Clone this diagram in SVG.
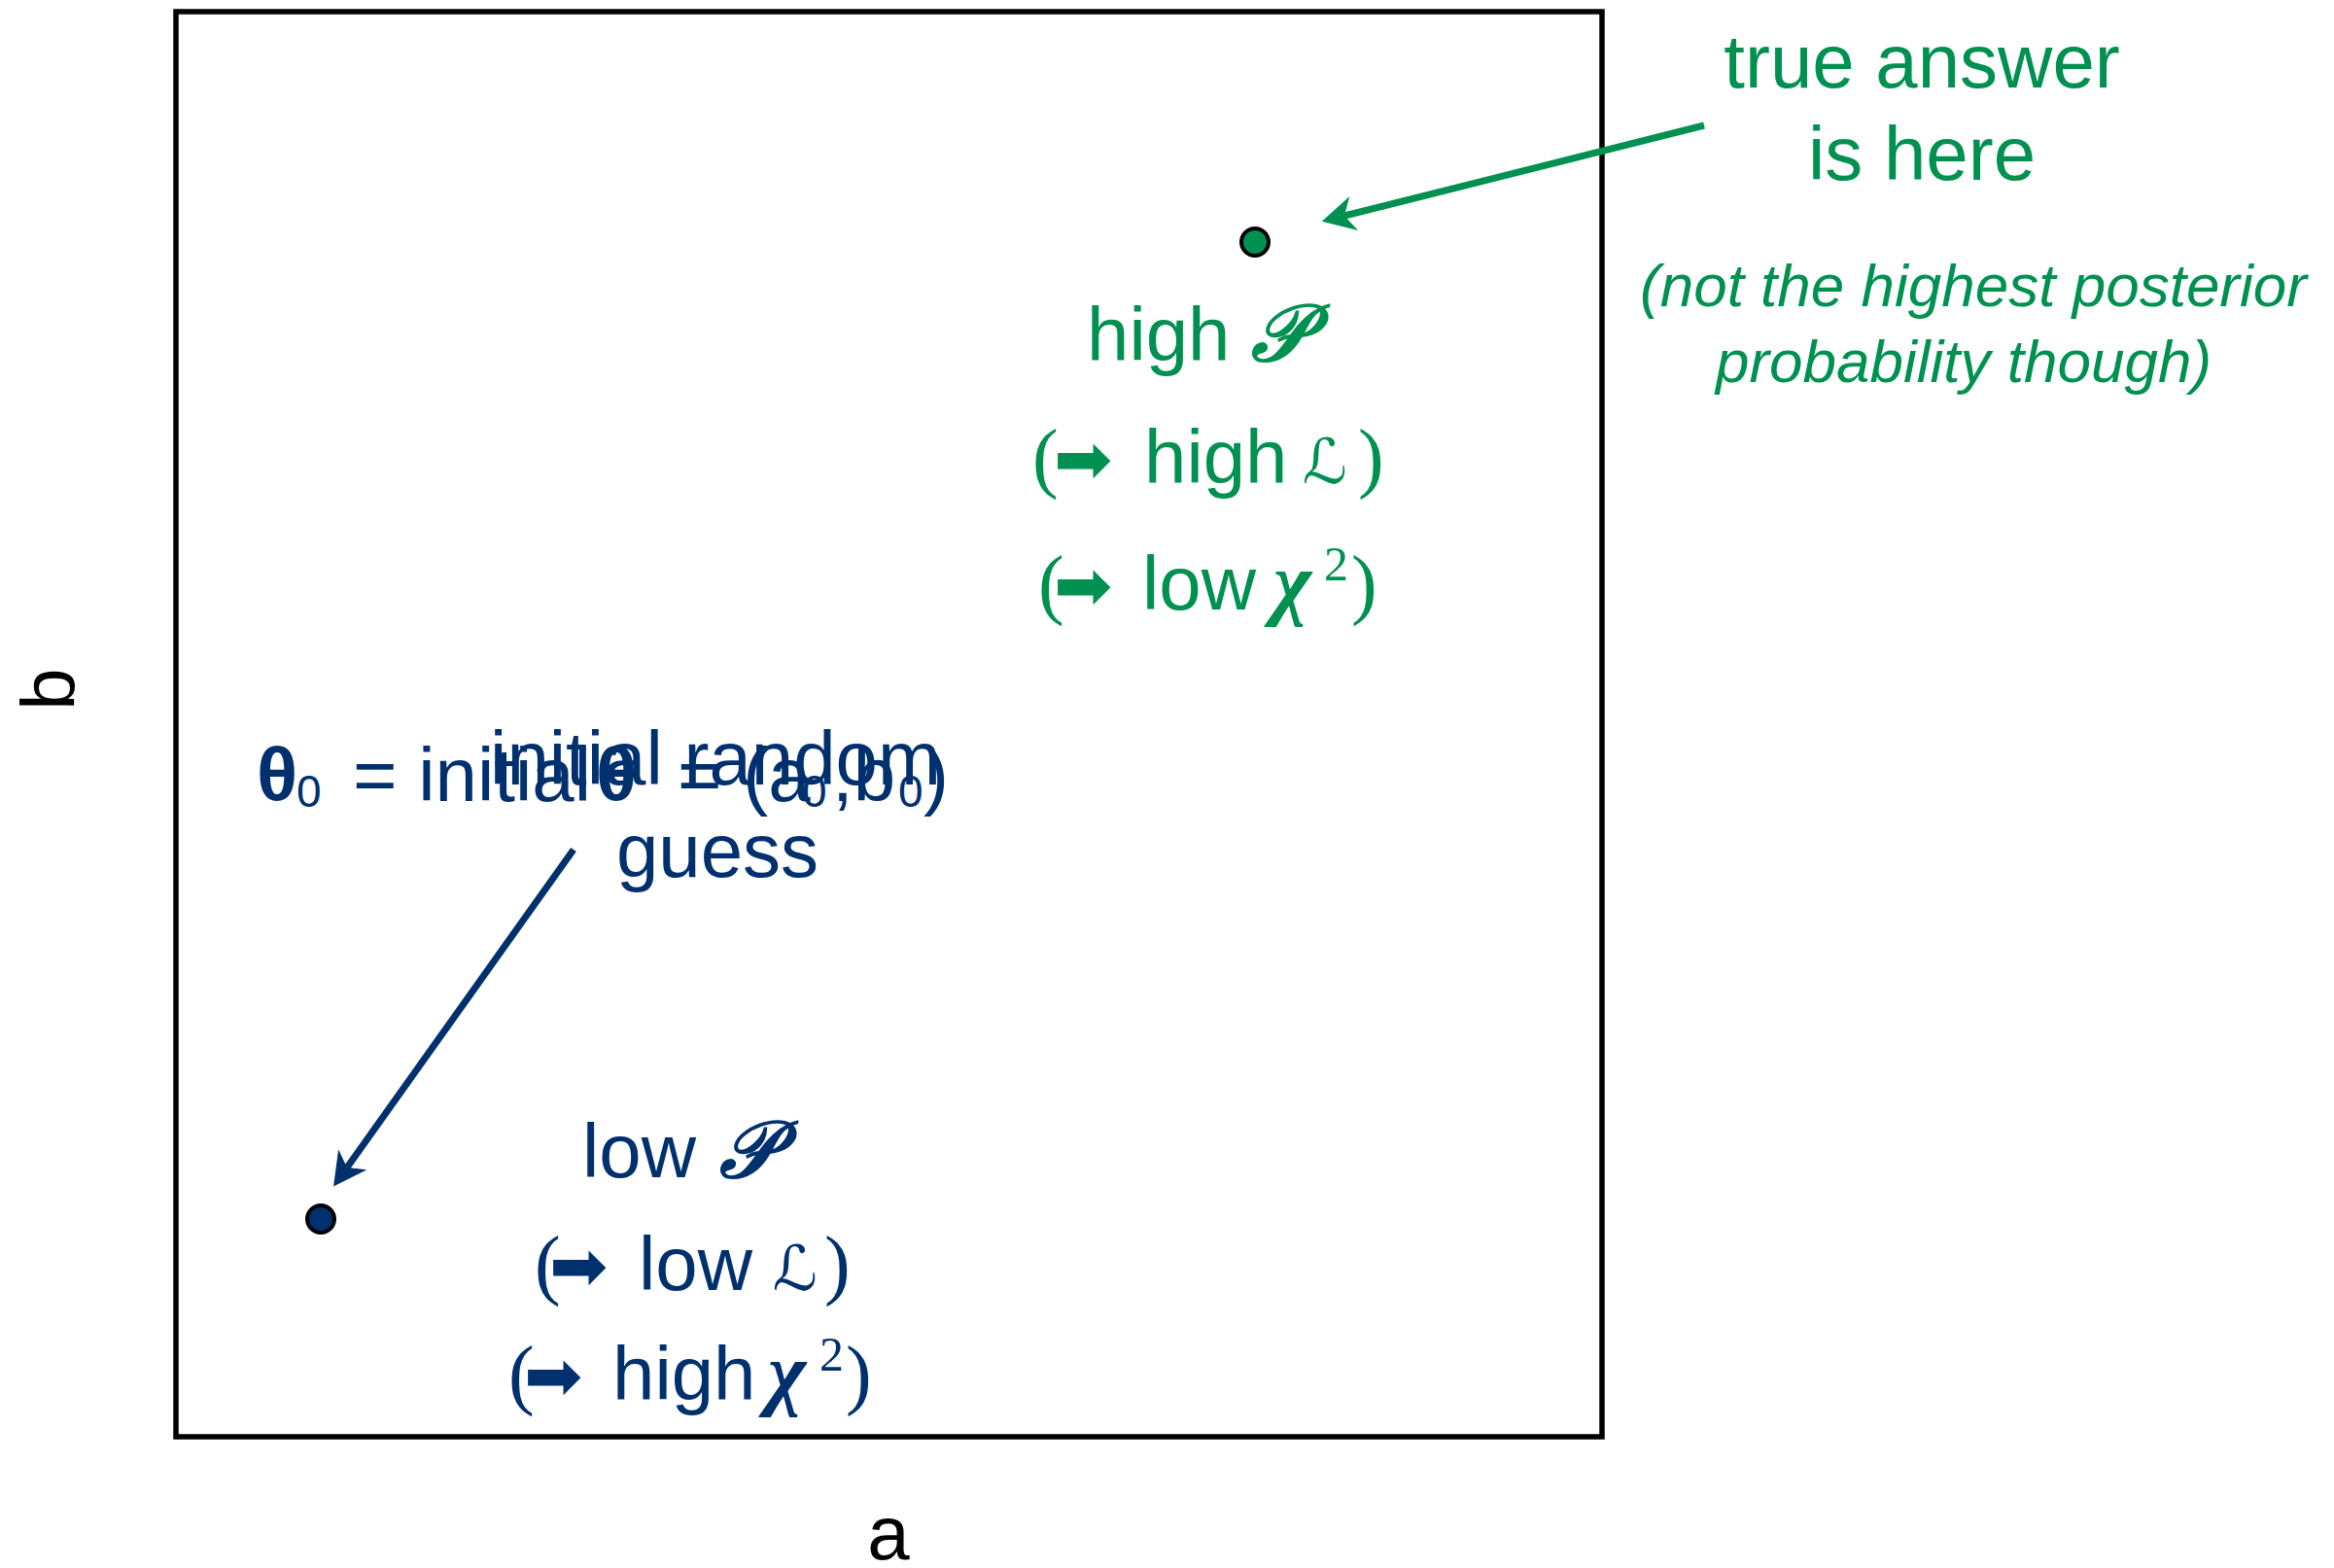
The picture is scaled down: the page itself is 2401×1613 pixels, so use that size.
<svg xmlns="http://www.w3.org/2000/svg" width="2401" height="1613" viewBox="0 0 2401 1613">
<defs>
<style>
.t{font-family:"Liberation Sans",Arial,sans-serif;font-size:78px}
.g{fill:#009150}
.bl{fill:#00306e}
.it{font-style:italic;font-size:62px}
.par{font-family:"Liberation Serif","Times New Roman",serif;font-size:80px}
.arr{font-family:"DejaVu Sans",sans-serif;font-size:72px}
.scr{font-family:"DejaVu Serif","DejaVu Sans",serif;font-style:italic;font-weight:bold;font-size:82px}
.lsc{font-family:"DejaVu Serif","DejaVu Sans",serif;font-style:italic;font-size:64px}
.chi{font-family:"Liberation Serif","Times New Roman",serif;font-style:italic;font-weight:bold;font-size:84px}
.sup{font-family:"Liberation Serif","Times New Roman",serif;font-size:50px}
.sub{font-size:46px}
.bt{font-weight:bold}
.conn{fill:none;stroke-width:7}
.dot{stroke:#000;stroke-width:4}
</style>
<marker id="ahG" viewBox="0 0 34 36" refX="10" refY="18" markerWidth="34" markerHeight="36" markerUnits="userSpaceOnUse" orient="auto">
<path d="M0,0 L34,18 L0,36 L10,18 Z" fill="#009150"/>
</marker>
<marker id="ahB" viewBox="0 0 34 36" refX="10" refY="18" markerWidth="34" markerHeight="36" markerUnits="userSpaceOnUse" orient="auto">
<path d="M0,0 L34,18 L0,36 L10,18 Z" fill="#00306e"/>
</marker>
</defs>
<rect width="2401" height="1613" fill="#fff"/>
<g id="plot-frame">
<rect x="181" y="12" width="1467" height="1466" fill="none" stroke="#000" stroke-width="5.5"/>
</g>
<g id="axis-labels">
<text class="t" x="914" y="1604" text-anchor="middle" font-size="78" fill="#000">a</text>
<text class="t" x="77" y="709" text-anchor="middle" font-size="80" fill="#000" transform="rotate(-90 77 709)">b</text>
</g>
<g id="connectors">
<line class="conn" x1="1753" y1="129" x2="1383" y2="222" stroke="#009150" marker-end="url(#ahG)"/>
<line class="conn" x1="590" y1="874" x2="357" y2="1201" stroke="#00306e" marker-end="url(#ahB)"/>
</g>
<g id="true-answer-point">
<circle class="dot" cx="1291" cy="249" r="14" fill="#009150"/>
</g>
<g id="initial-guess-point">
<circle class="dot" cx="330" cy="1254" r="14" fill="#00306e"/>
</g>
<g id="true-answer-label">
<text class="t g" x="1977" y="90" text-anchor="middle">true answer</text>
<text class="t g" x="1977" y="185" text-anchor="middle">is here</text>
<text class="t g it" x="2030" y="315" text-anchor="middle">(not the highest posterior</text>
<text class="t g it" x="2020" y="393" text-anchor="middle">probability though)</text>
</g>
<g id="high-label">
<text class="t g" y="371"><tspan x="1118">high </tspan><tspan class="scr" x="1287">𝒫</tspan></text>
<text class="t g" y="497"><tspan class="par" x="1062">(</tspan><tspan class="arr" x="1084">➡ </tspan><tspan x="1177">high </tspan><tspan class="lsc" x="1340">ℒ</tspan><tspan class="par" x="1397">)</tspan></text>
<text class="t g" y="627"><tspan class="par" x="1068">(</tspan><tspan class="arr" x="1084">➡ </tspan><tspan x="1175">low </tspan><tspan class="chi" x="1310">χ</tspan><tspan class="sup" x="1362" y="597">2</tspan><tspan class="par" x="1390" y="627">)</tspan></text>
</g>
<g id="low-label">
<text class="t bl" y="1211"><tspan x="599">low </tspan><tspan class="scr" x="740">𝒫</tspan></text>
<text class="t bl" y="1327"><tspan class="par" x="550">(</tspan><tspan class="arr" x="565">➡ </tspan><tspan x="657">low </tspan><tspan class="lsc" x="795">ℒ</tspan><tspan class="par" x="848">)</tspan></text>
<text class="t bl" y="1440"><tspan class="par" x="523">(</tspan><tspan class="arr" x="539">➡ </tspan><tspan x="630">high </tspan><tspan class="chi" x="790">χ</tspan><tspan class="sup" x="843" y="1410">2</tspan><tspan class="par" x="870" y="1440">)</tspan></text>
</g>
<g id="initial-guess-label">
<text class="t bl" x="736" y="807" text-anchor="middle">initial random</text>
<text class="t bl" x="738" y="902" text-anchor="middle">guess</text>
<text class="t bl" y="824"><tspan class="bt" x="264">θ</tspan><tspan class="sub" x="305" y="830">0</tspan><tspan x="363" y="824">= initial </tspan><tspan class="bt" x="613">θ</tspan><tspan x="697">= (a</tspan><tspan class="sub" x="825" y="830">0</tspan><tspan x="856" y="824">,b</tspan><tspan class="sub" x="924" y="830">0</tspan><tspan x="950" y="824">)</tspan></text>
</g>
</svg>
